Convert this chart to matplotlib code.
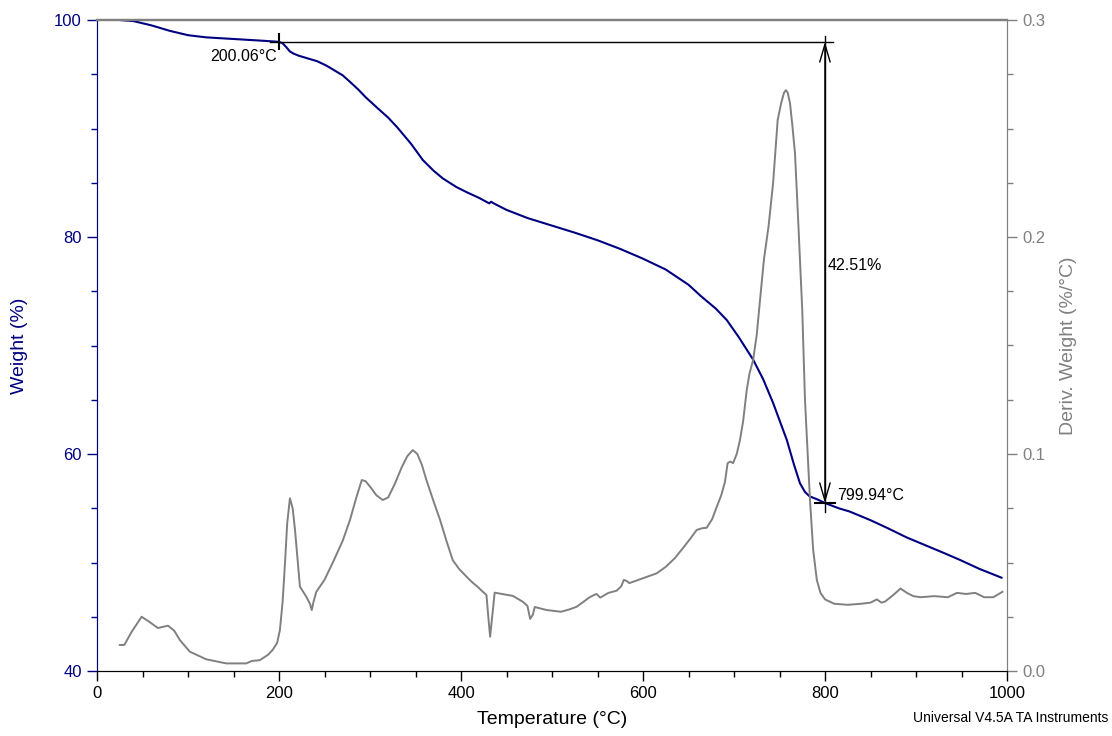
import matplotlib
matplotlib.use("Agg")
import matplotlib.pyplot as plt
from matplotlib.ticker import MultipleLocator

plt.rcParams['font.family'] = ['Liberation Sans', 'DejaVu Sans']

# ---- data ----
temp_w = [25, 40, 60, 80, 100, 120, 150, 180, 200, 204, 208, 212, 216, 222, 232, 242, 252,
          260, 270, 278, 287, 295, 308, 320, 330, 345, 358, 370, 380, 395, 407, 420, 431,
          433, 436, 450, 473, 498, 525, 550, 575, 600, 625, 650, 663, 680, 692, 705, 721,
          732, 743, 758, 766, 772.5, 778, 783, 792, 800, 815, 827, 850, 868, 890, 910,
          930, 948, 970, 994]
weight = [100.0, 99.9, 99.5, 99.0, 98.6, 98.4, 98.25, 98.1, 97.99, 97.85, 97.5, 97.1,
          96.9, 96.7, 96.45, 96.2, 95.8, 95.4, 94.9, 94.3, 93.6, 92.9, 91.9, 91.0, 90.1,
          88.6, 87.1, 86.1, 85.4, 84.6, 84.1, 83.6, 83.1, 83.25, 83.1, 82.5, 81.75, 81.1,
          80.4, 79.7, 78.9, 78.0, 77.0, 75.6, 74.6, 73.4, 72.35, 70.8, 68.7, 66.9, 64.7,
          61.3, 59.0, 57.3, 56.5, 56.1, 55.8, 55.48, 55.0, 54.7, 53.9, 53.2, 52.3, 51.6,
          50.9, 50.25, 49.4, 48.6]

temp_d = [25, 30, 38, 49, 58, 67, 78, 85, 91, 102, 120, 142, 164, 170, 179, 188, 193, 198,
          201, 204, 206.6, 209, 212, 215, 217.6, 223, 230, 234, 236, 238, 241, 250, 259.6,
          270, 278, 285, 291, 295, 300, 307, 314, 320, 327, 335, 341, 347, 352, 357, 362,
          370, 377, 384, 391, 398, 406, 412, 418, 424, 428, 430, 432, 435, 437, 445, 457,
          468, 473, 476, 479, 481, 494, 510, 520, 527, 535, 540, 545, 549, 553, 558, 562,
          571, 576, 579, 582, 585, 595, 605, 615, 625, 635, 644, 652, 659, 665, 670, 676,
          681, 686, 690, 693, 696, 699, 703, 706.6, 710, 714, 717, 721, 725, 728.6, 733,
          738, 743, 748, 752, 755, 757, 759, 761.5, 764, 767, 770, 773, 775, 778, 781,
          783.5, 787, 791, 795, 800, 810, 825, 840, 850, 857, 862, 866, 875, 883, 890,
          897, 905, 920, 935, 945, 955, 965, 975, 985, 995]
deriv = [0.012, 0.012, 0.018, 0.025, 0.0225, 0.0198, 0.0209, 0.0185, 0.0143, 0.0089,
         0.0054, 0.0035, 0.0035, 0.0046, 0.005, 0.0075, 0.0097, 0.013, 0.0189, 0.032,
         0.0498, 0.068, 0.0796, 0.075, 0.065, 0.0389, 0.0342, 0.031, 0.0281, 0.032,
         0.0365, 0.042, 0.0504, 0.060, 0.0696, 0.080, 0.088, 0.0875, 0.085, 0.081,
         0.0788, 0.080, 0.086, 0.094, 0.099, 0.1018, 0.100, 0.095, 0.088, 0.078, 0.0696,
         0.060, 0.051, 0.047, 0.0435, 0.041, 0.0389, 0.0365, 0.035, 0.025, 0.0158, 0.028,
         0.0361, 0.0355, 0.0346, 0.0319, 0.030, 0.024, 0.026, 0.0295, 0.0281, 0.0273,
         0.0285, 0.0296, 0.032, 0.0336, 0.0348, 0.0355, 0.0338, 0.035, 0.036, 0.037,
         0.039, 0.042, 0.0415, 0.0405, 0.042, 0.0435, 0.045, 0.048, 0.052, 0.0567, 0.061,
         0.065, 0.0658, 0.066, 0.070, 0.0756, 0.081, 0.087, 0.0958, 0.0965, 0.0958, 0.100,
         0.1065, 0.115, 0.1295, 0.137, 0.1433, 0.155, 0.171, 0.190, 0.205, 0.225, 0.254,
         0.262, 0.2665, 0.2677, 0.2665, 0.2618, 0.252, 0.2387, 0.2124, 0.185, 0.1664,
         0.1249, 0.100, 0.0788, 0.0558, 0.042, 0.036, 0.033, 0.031, 0.0305, 0.031, 0.0315,
         0.033, 0.0315, 0.032, 0.035, 0.038, 0.036, 0.0345, 0.034, 0.0345, 0.034, 0.036,
         0.0355, 0.036, 0.034, 0.034, 0.0365]

start_T, start_W = 200.06, 97.99
end_T, end_W = 799.94, 55.48
loss_label = "42.51%"

NAVY = '#000080'
GRAY = '#808080'

fig = plt.figure(figsize=(11.12, 7.36), dpi=100)
ax = fig.add_axes([97/1112, 65/736, 910/1112, 651/736])
ax2 = ax.twinx()

ax.plot(temp_w, weight, color=NAVY, lw=1.5, zorder=3)
ax2.plot(temp_d, deriv, color=GRAY, lw=1.4)

ax.set_xlim(0, 1000)
ax.set_ylim(40, 100)
ax2.set_ylim(0, 0.3)

# annotation lines
ax.plot([start_T - 10, end_T + 9], [start_W, start_W], color='black', lw=1, zorder=4)
ax.plot([start_T, start_T], [start_W - 0.7, start_W + 0.7], color='black', lw=1.5, zorder=4)
ax.plot([end_T - 11, end_T + 11], [end_W, end_W], color='black', lw=1.5, zorder=4)
ax.plot([end_T, end_T], [start_W + 0.5, end_W - 0.8], color='black', lw=1, zorder=4)
ax.annotate('', xy=(end_T, start_W), xytext=(end_T, end_W),
            arrowprops=dict(arrowstyle='<->, head_length=0.85, head_width=0.25',
                            mutation_scale=15, lw=1, color='black',
                            shrinkA=0, shrinkB=0), zorder=4)
ax.text(start_T - 2.5, start_W - 1.4, f"{start_T:.2f}°C", ha='right', va='center',
        fontsize=11.5, color='black')
ax.text(end_T + 13, end_W + 0.65, f"{end_T:.2f}°C", ha='left', va='center',
        fontsize=11.5, color='black')
ax.text(end_T + 3, (start_W + end_W) / 2 + 0.6, loss_label, ha='left', va='center',
        fontsize=11.5, color='black')

# axes styling
ax.xaxis.set_major_locator(MultipleLocator(200))
ax.xaxis.set_minor_locator(MultipleLocator(50))
ax.yaxis.set_major_locator(MultipleLocator(20))
ax.yaxis.set_minor_locator(MultipleLocator(5))
ax2.yaxis.set_major_locator(MultipleLocator(0.1))
ax2.yaxis.set_minor_locator(MultipleLocator(0.025))
ax2.yaxis.set_major_formatter(plt.FormatStrFormatter('%.1f'))

ax.tick_params(axis='x', which='major', direction='out', length=7, width=1, colors='black',
               labelsize=12, pad=4)
ax.tick_params(axis='x', which='minor', direction='out', length=4, width=1, colors='black')
ax.tick_params(axis='y', which='major', direction='out', length=7, width=1, colors=NAVY,
               labelsize=12, pad=4)
ax.tick_params(axis='y', which='minor', direction='out', length=4, width=1, colors=NAVY)
ax2.tick_params(axis='y', which='major', direction='out', length=7, width=1, colors=GRAY,
                labelsize=12, pad=4)
ax2.tick_params(axis='y', which='minor', direction='out', length=4, width=1, colors=GRAY)

for a in (ax, ax2):
    a.spines['left'].set_color(NAVY)
    a.spines['right'].set_color(GRAY)
    a.spines['bottom'].set_color('black')
    a.spines['top'].set_color(GRAY)
    a.spines['top'].set_linewidth(1.6)

ax.set_xlabel('Temperature (°C)', fontsize=14, color='black')
ax.xaxis.set_label_coords(0.5, -0.062)
ax.set_ylabel('Weight (%)', fontsize=14, color=NAVY)
ax.yaxis.set_label_coords(-0.076, 0.5)
ax2.set_ylabel('Deriv. Weight (%/°C)', fontsize=14, color=GRAY)
ax2.yaxis.set_label_coords(1.058, 0.5)

fig.text(1108/1112, 1 - 718/736, 'Universal V4.5A TA Instruments', ha='right', va='center',
         fontsize=10, color='black')

fig.savefig('out.png', dpi=100)
